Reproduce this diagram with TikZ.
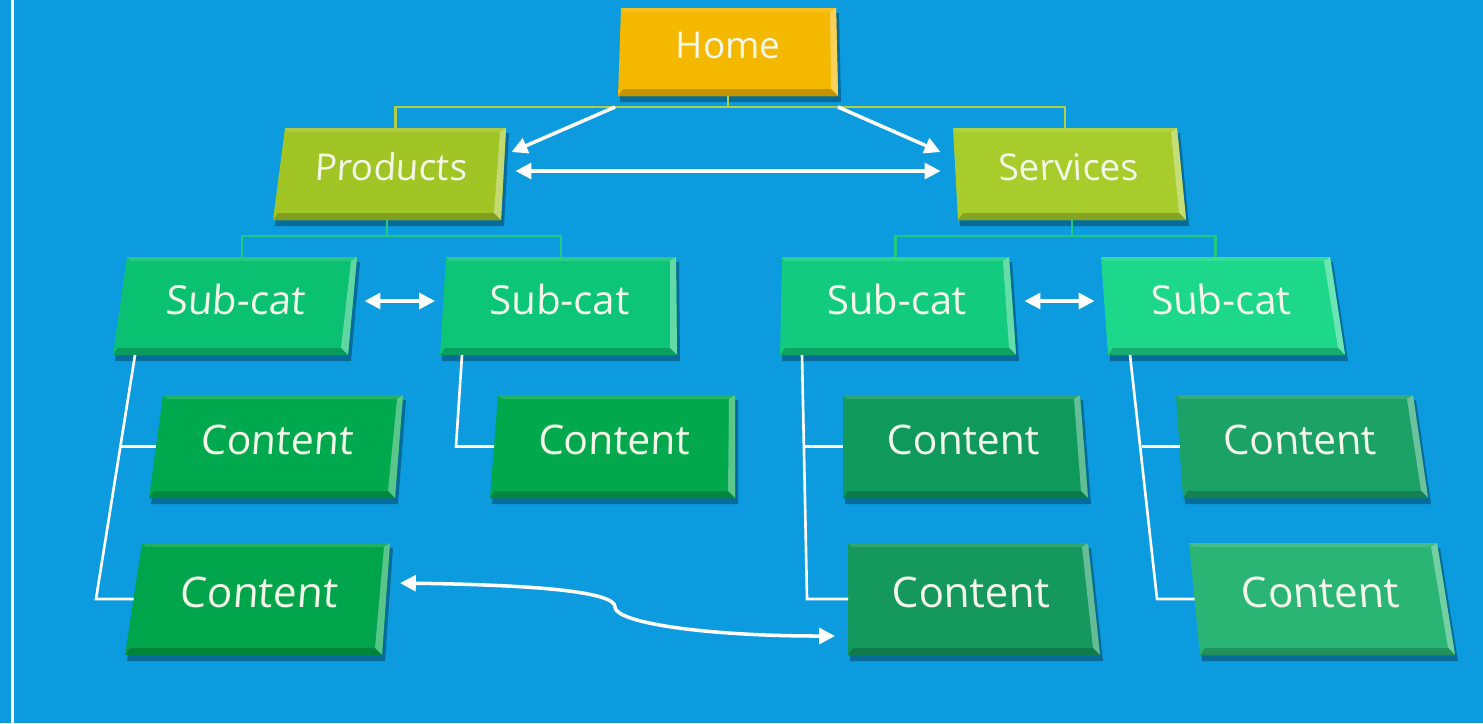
\documentclass[tikz,border=0pt]{standalone}
\usepackage{fontspec}
\setmainfont{Open Sans}
\usetikzlibrary{arrows.meta,calc}

\definecolor{bgblue}{HTML}{0B9BDE}
\definecolor{homeY}{HTML}{F5B800}
\definecolor{prodG}{HTML}{A2C526}
\definecolor{servG}{HTML}{A8CC2C}
\definecolor{subA}{HTML}{0AC172}
\definecolor{subB}{HTML}{0DC577}
\definecolor{subC}{HTML}{12CB7E}
\definecolor{subD}{HTML}{1DD78B}
\definecolor{contA}{HTML}{00A94D}
\definecolor{contB}{HTML}{02A94C}
\definecolor{contC}{HTML}{0F9A5C}
\definecolor{contD}{HTML}{1CA167}
\definecolor{contE}{HTML}{00A54B}
\definecolor{contF}{HTML}{14985E}
\definecolor{contG}{HTML}{2AB575}
\definecolor{textW}{HTML}{F4F8E8}

\def\boxsize{10.5}

% name, colour, x top-left, x top-right, x bottom-right, x bottom-left, y top, y bottom, text
\newcommand{\pagebox}[9]{%
  \fill[black,opacity=.3] (#3+2,#7+5) -- (#4+3,#7+5) -- (#5+3,#8+6) -- (#6+2,#8+6) -- cycle;
  \fill[#2] (#3,#7) -- (#4,#7) -- (#5,#8) -- (#6,#8) -- cycle;
  \fill[#2!88!white] (#3,#7) -- (#4,#7) -- (#4-6,#7+4) -- (#3+4,#7+4) -- cycle;
  \fill[#2!65!white] (#4,#7) -- (#5,#8) -- (#5-7,#8-7) -- (#4-6,#7+4) -- cycle;
  \fill[#2!80!black] (#6,#8) -- (#5,#8) -- (#5-7,#8-7) -- (#6+5,#8-7) -- cycle;
  \coordinate (#1-n) at ({(#3+#4)/2},#7);
  \coordinate (#1-s) at ({(#5+#6)/2},#8);
  \coordinate (#1-w) at ({(#3+#6)/2},{(#7+#8)/2});
  \coordinate (#1-e) at ({(#4+#5)/2},{(#7+#8)/2});
  \coordinate (#1-sw) at (#6,#8);
  \coordinate (#1-se) at (#5,#8);
  \coordinate (#1-foot) at (#6+22,#8);
  \coordinate (#1-c) at ({(#3+#4+#5+#6)/4},{(#7+#8)/2-7});
  \pgfmathsetmacro\bslant{0.65*((#3-#6)+(#4-#5))/(2*(#8-#7))}
  \begin{scope}[shift={(#1-c)},xslant=\bslant]
    \node[boxtext,transform shape] (#1) {#9};
  \end{scope}
}

\begin{document}
\begin{tikzpicture}[x=0.01cm,y=-0.01cm,
    boxtext/.style={text=textW,inner sep=0pt,font=\fontsize{\boxsize}{\boxsize}\selectfont},
    topline/.style={draw=prodG!85!white,line width=0.6pt},
    midline/.style={draw=subA!90!white,line width=0.6pt},
    leafline/.style={draw=white,line width=0.75pt},
    link/.style={draw=white,line width=1pt,>={Triangle[length=4.5pt,width=4.5pt]}}]

\fill[bgblue] (0,0) rectangle (1483,723);
\useasboundingbox (0,0) rectangle (1483,723);
\draw[white,line width=0.6pt] (12.5,0) -- (12.5,723);

% boxes
\pagebox{home}{homeY}{621}{836}{838}{618}{8}{96}{Home}
\pagebox{prod}{prodG}{285}{506}{501}{273}{128}{220}{Products}
\pagebox{serv}{servG}{953}{1177}{1186}{958}{128}{220}{Services}
\def\boxsize{11.4}
\pagebox{sc1}{subA}{127}{357}{348}{113}{257}{355}{Sub-cat}
\pagebox{sc2}{subB}{446}{676}{677}{440}{257}{355}{Sub-cat}
\pagebox{sc3}{subC}{782}{1009}{1016}{780}{257}{355}{Sub-cat}
\pagebox{sc4}{subD}{1101}{1330}{1345}{1108}{257}{355}{Sub-cat}
\def\boxsize{11.6}
\pagebox{c1}{contA}{163}{403}{395}{149}{395}{498}{Content}
\pagebox{c2}{contB}{498}{735}{735}{490}{395}{498}{Content}
\pagebox{c3}{contC}{843}{1080}{1088}{843}{395}{498}{Content}
\pagebox{c4}{contD}{1176}{1413}{1428}{1183}{395}{498}{Content}
\def\boxsize{12}
\pagebox{c5}{contE}{142}{390}{382}{125}{543}{655}{Content}
\pagebox{c6}{contF}{848}{1088}{1100}{848}{543}{655}{Content}
\pagebox{c7}{contG}{1189}{1437}{1455}{1200}{543}{655}{Content}

% tree lines
\draw[topline] (home-s) -- ++(0,11) -| (prod-n);
\draw[topline] (home-s) -- ++(0,11) -| (serv-n);
\draw[midline] (prod-s) -- ++(0,16) -| (sc1-n);
\draw[midline] (prod-s) -- ++(0,16) -| (sc2-n);
\draw[midline] (serv-s) -- ++(0,16) -| (sc3-n);
\draw[midline] (serv-s) -- ++(0,16) -| (sc4-n);

\coordinate (sc1-j) at (96,0);
\coordinate (sc1-k) at (120,0);
\coordinate (sc2-j) at (456,0);
\coordinate (sc3-j) at (807,0);
\coordinate (sc3-k) at (805,0);
\coordinate (sc4-j) at (1157,0);
\coordinate (sc4-k) at (1142,0);
\draw[leafline] (sc1-foot) -- (sc1-j |- c5-w) -- (c5-w);
\draw[leafline] (sc1-k |- c1-w) -- (c1-w);
\draw[leafline] (sc2-foot) -- (sc2-j |- c2-w) -- (c2-w);
\draw[leafline] (sc3-foot) -- (sc3-j |- c6-w) -- (c6-w);
\draw[leafline] (sc3-k |- c3-w) -- (c3-w);
\draw[leafline] (sc4-foot) -- (sc4-j |- c7-w) -- (c7-w);
\draw[leafline] (sc4-k |- c4-w) -- (c4-w);

% links
\draw[link,->] ($(home-sw)+(-3,11)$) -- ($(prod-e)+(8,-22)$);
\draw[link,->] ($(home-se)+(0,11)$) -- ($(serv-w)+(-15,-22)$);
\draw[link,<->] ($(prod-e)+(12,-3)$) -- ($(serv-w)+(-15,-3)$);
\draw[link,<->] ($(sc1-e)+(12,-5)$) -- ($(sc2-w)+(-8,-5)$);
\draw[link,<->] ($(sc3-e)+(12,-5)$) -- ($(sc4-w)+(-10,-5)$);
\draw[link,<->] ($(c5-e)+(14,-16)$) .. controls (540,585) and (615,592) .. (615,607)
  .. controls (615,622) and (700,636) .. ($(c6-w)+(-13,37)$);

\end{tikzpicture}
\end{document}
